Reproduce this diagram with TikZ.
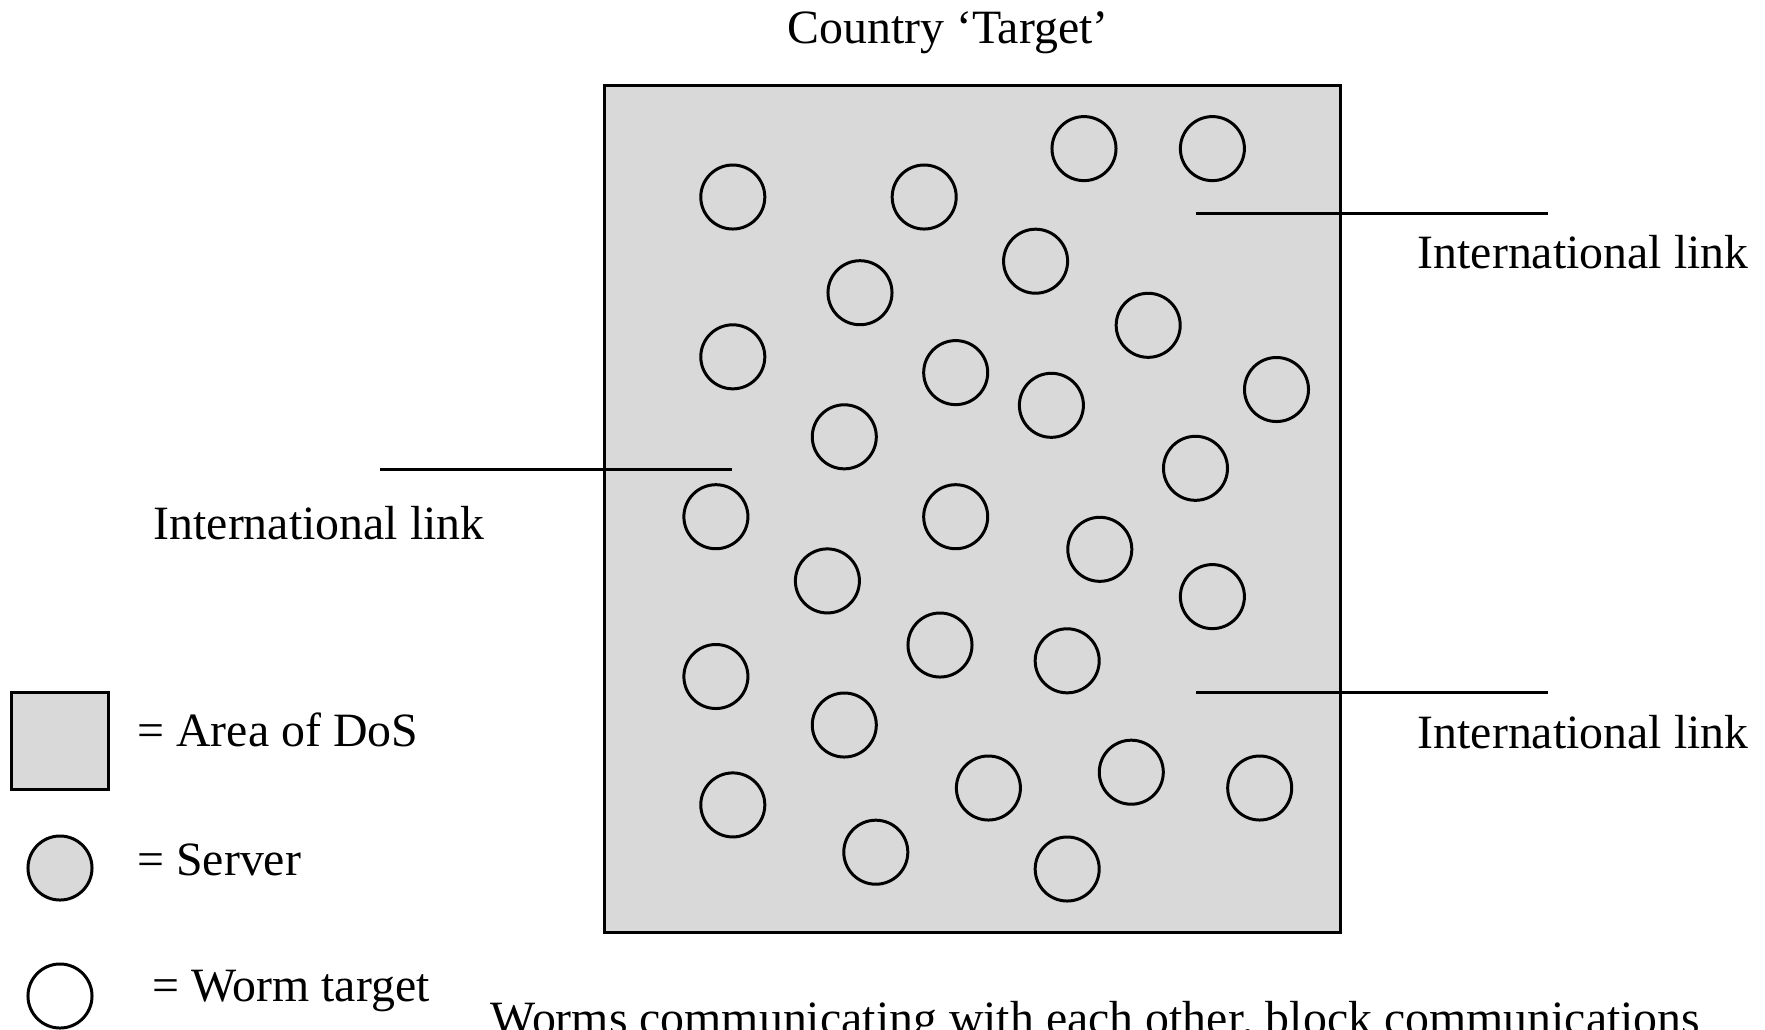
\documentclass[tikz,border=0pt]{standalone}
\usepackage{fontspec}
\setmainfont{Liberation Serif}
\definecolor{dosgray}{RGB}{217,217,217}
\tikzset{
  lbl/.style={anchor=base west,inner sep=0pt,font=\fontsize{13.6}{16}\selectfont},
  server/.style={circle,draw,line width=0.85pt,fill=dosgray,minimum size=0.64cm,inner sep=0pt},
  wormtarget/.style={circle,draw,line width=0.85pt,fill=white,minimum size=0.64cm,inner sep=0pt},
  link/.style={line width=0.85pt}
}
\begin{document}
\begin{tikzpicture}[x=0.01cm,y=-0.01cm]
        \useasboundingbox (0,0) rectangle (1765,1029);
        % area of DoS
        \draw[line width=0.85pt,fill=dosgray] (604.5,85) rectangle (1340.5,932);
        \node[lbl,anchor=base] (title) at (948,43) {Country `Target'};
        % servers inside the country
        \foreach \px/\py [count=\i] in {732.8/197, 924.2/197, 1084/148.6, 1212.4/148.6,
            860/292.7, 1035.6/261.2, 1148.2/325.3, 732.8/356.8, 955.7/372.6,
            1051.4/405.3, 1276.5/389.5, 844.3/436.8, 1195.5/468.3, 715.9/516.7,
            955.7/516.7, 1099.8/549.3, 827.4/580.9, 1212.4/596.6, 940/645,
            1067.2/660.8, 715.9/676.5, 844.3/725, 732.8/804.9, 988.4/788,
            1131.3/772.2, 1259.7/788, 875.8/852.2, 1067.2/869}
            \node[server] (s\i) at (\px,\py) {};
        % international links
        \coordinate (linkA1) at (1196,213);
        \coordinate (linkA2) at (1548,213);
        \coordinate (linkB1) at (380,469);
        \coordinate (linkB2) at (732,469);
        \coordinate (linkC1) at (1196,692);
        \coordinate (linkC2) at (1548,692);
        \draw[link] (linkA1) -- (linkA2);
        \draw[link] (linkB1) -- (linkB2);
        \draw[link] (linkC1) -- (linkC2);
        \node[lbl] (labA) at (1417,268) {International link};
        \node[lbl] (labB) at (153,539) {International link};
        \node[lbl] (labC) at (1417,748) {International link};
        % legend
        \draw[line width=0.85pt,fill=dosgray] (11.5,692.5) rectangle (108.3,789);
        \node[lbl] (legA) at (136.7,746.7) {= Area of DoS};
        \node[server] (legsrv) at (60,868) {};
        \node[lbl] (legS) at (136.7,875) {= Server};
        \node[wormtarget] (legwt) at (60,996) {};
        \node[lbl] (legW) at (151.7,1001.7) {= Worm target};
        % caption, cut off at the bottom edge
        \node[lbl] (caption) at (490,1034) {Worms communicating with each other, block communications};
\end{tikzpicture}
\end{document}
